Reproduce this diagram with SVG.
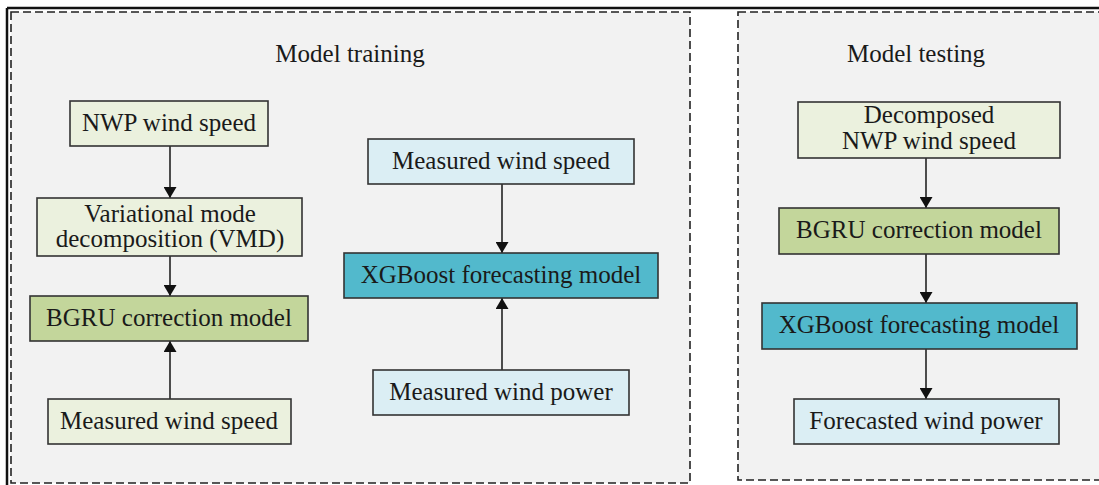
<svg xmlns="http://www.w3.org/2000/svg" width="1099" height="485" viewBox="0 0 1099 485">
<style>
text{font-family:"Liberation Serif","Times New Roman",serif;font-size:25px;fill:#1a1a1a;text-anchor:middle}
.panel{fill:#f2f2f2;stroke:#222;stroke-width:1.6;stroke-dasharray:8 4}
.box{stroke:#333;stroke-width:1.6}
.lg{fill:#ebf1de}
.mg{fill:#c3d69b}
.lb{fill:#dbeef4}
.tb{fill:#52b9cc}
.conn{stroke:#222;stroke-width:1.6;fill:none;marker-end:url(#ah)}
</style>
<defs>
<marker id="ah" viewBox="0 0 11 13" refX="11" refY="6.5" markerWidth="11" markerHeight="13" markerUnits="userSpaceOnUse" orient="auto">
<path d="M0,0 L11,6.5 L0,13 Z" fill="#111"/>
</marker>
</defs>
<rect x="0" y="0" width="1099" height="485" fill="#ffffff"/>
<g id="frame">
<line x1="7" y1="8" x2="1099" y2="8" stroke="#111" stroke-width="2.5"/>
<line x1="7" y1="8" x2="7" y2="485" stroke="#111" stroke-width="2.5"/>
</g>
<g id="panel-training">
<rect class="panel" x="11" y="12" width="679" height="471"/>
<text x="350" y="62">Model training</text>
</g>
<g id="panel-testing">
<rect class="panel" x="738" y="12" width="380" height="468"/>
<text x="916" y="62">Model testing</text>
</g>
<g id="connectors">
<line class="conn" x1="170" y1="146" x2="170" y2="198"/>
<line class="conn" x1="170" y1="256" x2="170" y2="296"/>
<line class="conn" x1="170" y1="399" x2="170" y2="341"/>
<line class="conn" x1="502" y1="184" x2="502" y2="253"/>
<line class="conn" x1="502" y1="370" x2="502" y2="298"/>
<line class="conn" x1="926" y1="158" x2="926" y2="208"/>
<line class="conn" x1="926" y1="254" x2="926" y2="303"/>
<line class="conn" x1="926" y1="349" x2="926" y2="399"/>
</g>
<g id="nwp">
<rect class="box lg" x="70" y="101" width="198" height="45"/>
<text x="169" y="131">NWP wind speed</text>
</g>
<g id="vmd">
<rect class="box lg" x="37" y="198" width="265" height="58"/>
<text x="170" y="222">Variational mode</text>
<text x="170" y="247">decomposition (VMD)</text>
</g>
<g id="bgru-train">
<rect class="box mg" x="30" y="296" width="278" height="45"/>
<text x="169" y="326">BGRU correction model</text>
</g>
<g id="measured-speed-left">
<rect class="box lg" x="48" y="399" width="243" height="45"/>
<text x="169" y="429">Measured wind speed</text>
</g>
<g id="measured-speed-mid">
<rect class="box lb" x="368" y="139" width="266" height="45"/>
<text x="501" y="169">Measured wind speed</text>
</g>
<g id="xgb-train">
<rect class="box tb" x="344" y="253" width="314" height="45"/>
<text x="501" y="283">XGBoost forecasting model</text>
</g>
<g id="measured-power">
<rect class="box lb" x="373" y="370" width="256" height="45"/>
<text x="501" y="400">Measured wind power</text>
</g>
<g id="decomposed">
<rect class="box lg" x="798" y="102" width="262" height="56"/>
<text x="929" y="123">Decomposed</text>
<text x="929" y="149">NWP wind speed</text>
</g>
<g id="bgru-test">
<rect class="box mg" x="779" y="208" width="280" height="46"/>
<text x="919" y="238">BGRU correction model</text>
</g>
<g id="xgb-test">
<rect class="box tb" x="762" y="303" width="315" height="46"/>
<text x="919" y="333">XGBoost forecasting model</text>
</g>
<g id="forecast">
<rect class="box lb" x="794" y="399" width="265" height="45"/>
<text x="926" y="429">Forecasted wind power</text>
</g>
</svg>
